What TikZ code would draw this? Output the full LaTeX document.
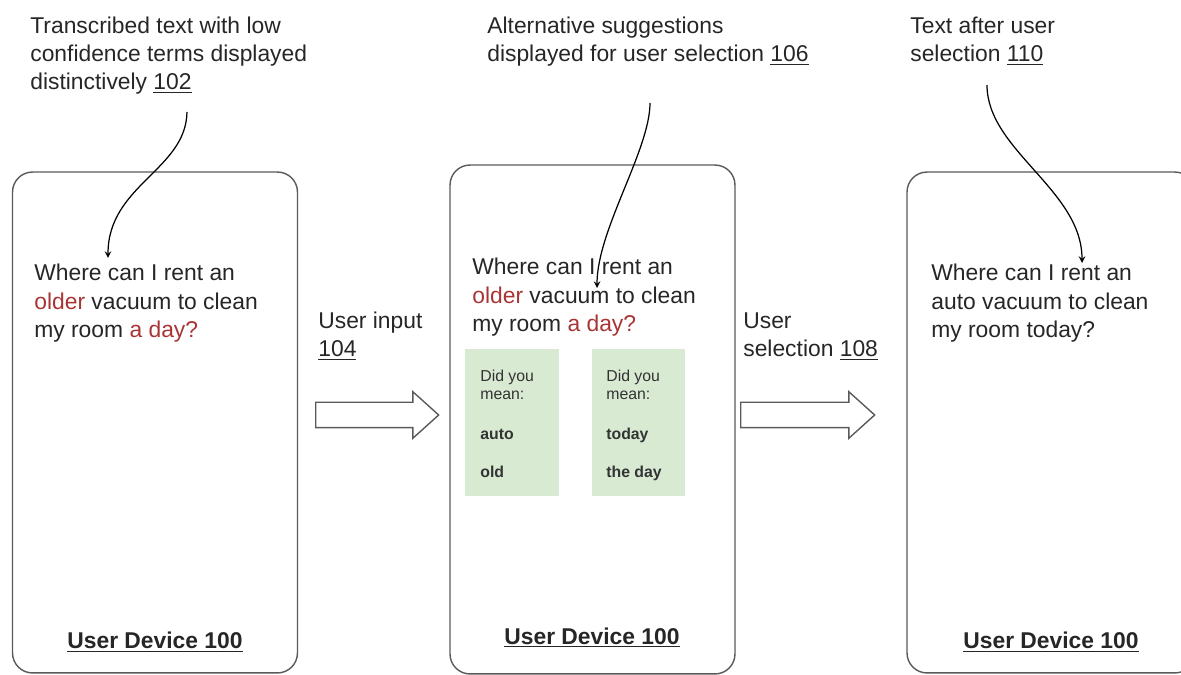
\documentclass[tikz,border=0pt]{standalone}
\usepackage{fontspec}
\setmainfont{Liberation Sans}
\usetikzlibrary{shapes.arrows}
\definecolor{lowconf}{HTML}{A93434}
\definecolor{suggest}{HTML}{D9EAD3}
\definecolor{frame}{HTML}{5A5A5A}

\begin{document}
\begin{tikzpicture}[x=0.02cm, y=-0.02cm]
    % Styles
    \tikzstyle{device} = [rectangle, draw=frame, line width=0.8pt, rounded corners=0.4cm, minimum width=5.7cm, minimum height=10.02cm]
    \tikzstyle{caption} = [anchor=base west, align=left, inner sep=0, text=black!85, font=\fontsize{13}{16.2}\selectfont]
    \tikzstyle{screen} = [caption, font=\fontsize{13}{16.4}\selectfont]
    \tikzstyle{devname} = [anchor=base, inner sep=0, text=black!85, font=\bfseries\fontsize{13}{16}\selectfont]
    \tikzstyle{choice} = [rectangle, fill=suggest, minimum width=1.88cm, minimum height=2.94cm]
    \tikzstyle{choicetext} = [anchor=base west, align=left, inner sep=0, text=black!80, font=\fontsize{9}{10.3}\selectfont]
    \tikzstyle{bigarrow} = [single arrow, draw=frame, line width=0.8pt, anchor=tail, inner xsep=0, inner ysep=0.24cm, text height=0pt, text depth=0pt, single arrow head extend=0.21cm, single arrow tip angle=84]
    \tikzstyle{arrow} = [line width=0.7pt, ->, >=stealth]

    \clip (0,0) rectangle (1181,675);

    % Devices
    \node[device] (dev1) at (155,422.5) {};
    \node[device, minimum height=10.18cm] (dev2) at (592.5,419.5) {};
    \node[device, minimum width=5.76cm] (dev3) at (1051,422.5) {};
    \node[devname] (name1) at (155,649) {\underline{User Device 100}};
    \node[devname] (name2) at (592,644) {\underline{User Device 100}};
    \node[devname] (name3) at (1051,649) {\underline{User Device 100}};

    % Captions (anchored at the baseline of the last line)
    \node[caption] (cap102) at (30,90) {Transcribed text with low\\confidence terms displayed\\distinctively \underline{102}};
    \node[caption] (cap106) at (487,62) {Alternative suggestions\\displayed for user selection \underline{106}};
    \node[caption] (cap110) at (910,62) {Text after user\\selection \underline{110}};
    \node[caption] (in104) at (318,357) {User input\\\underline{104}};
    \node[caption] (sel108) at (743,357) {User\\selection \underline{108}};

    % Screen text
    \node[screen] (text1) at (34,338) {Where can I rent an\\\textcolor{lowconf}{older} vacuum to clean\\my room \textcolor{lowconf}{a day?}};
    \node[screen] (text2) at (472,332) {Where can I rent an\\\textcolor{lowconf}{older} vacuum to clean\\my room \textcolor{lowconf}{a day?}};
    \node[screen] (text3) at (931,338) {Where can I rent an\\auto vacuum to clean\\my room today?};

    % Suggestions
    \node[choice] (older) at (512,422.5) {};
    \node[choice] (aday) at (638.5,422.5) {};
    \node[choicetext] (ask1) at (480,400) {Did you\\mean:};
    \node[choicetext, font=\bfseries\fontsize{9}{10.3}\selectfont] (auto) at (480,440) {auto};
    \node[choicetext, font=\bfseries\fontsize{9}{10.3}\selectfont] (old) at (480,478) {old};
    \node[choicetext] (ask2) at (606,400) {Did you\\mean:};
    \node[choicetext, font=\bfseries\fontsize{9}{10.3}\selectfont] (today) at (606,440) {today};
    \node[choicetext, font=\bfseries\fontsize{9}{10.3}\selectfont] (theday) at (606,478) {the day};

    % Block arrows
    \node[bigarrow, minimum height=2.46cm] (input) at (315,415) {};
    \node[bigarrow, minimum height=2.68cm] (select) at (740,415) {};

    % Arrows
    \coordinate (from102) at (187,112);
    \coordinate (to102) at (108,258);
    \coordinate (from106) at (650,103);
    \coordinate (to106) at (597,288);
    \coordinate (from110) at (987,85);
    \coordinate (to110) at (1082,263);
    \draw[arrow] (from102) .. controls (186,170) and (108,185) .. (to102);
    \draw[arrow] (from106) .. controls (650,150) and (597,230) .. (to106);
    \draw[arrow] (from110) .. controls (987,150) and (1082,190) .. (to110);
\end{tikzpicture}
\end{document}
